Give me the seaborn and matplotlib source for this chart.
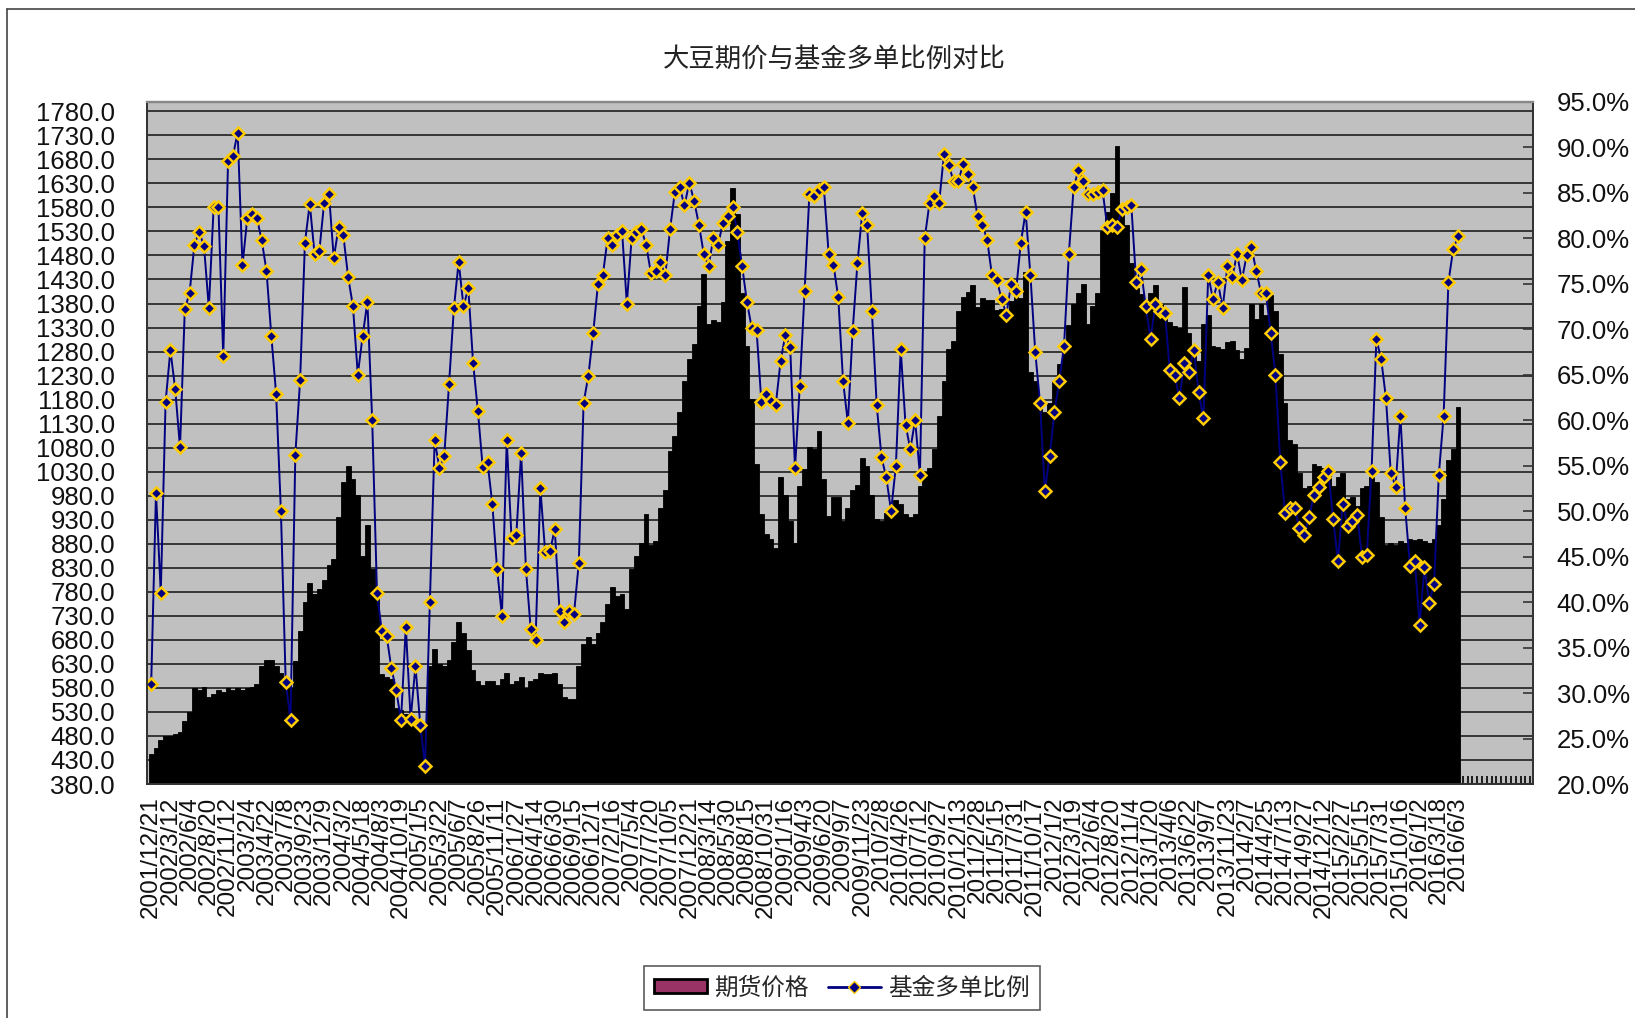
import numpy as np
import pandas as pd
import matplotlib
matplotlib.use("Agg")
import matplotlib.pyplot as plt
import seaborn as sns
from matplotlib.patches import Patch
from matplotlib.lines import Line2D

# ---------------- data ----------------
title = "大豆期价与基金多单比例对比"
series_price = "期货价格"
series_ratio = "基金多单比例"

date_labels = [
    "2001/12/21", "2002/3/12", "2002/6/4", "2002/8/20", "2002/11/12",
    "2003/2/4", "2003/4/22", "2003/7/8", "2003/9/23", "2003/12/9",
    "2004/3/2", "2004/5/18", "2004/8/3", "2004/10/19",
    "2005/1/5", "2005/3/22", "2005/6/7", "2005/8/26", "2005/11/11",
    "2006/1/27", "2006/4/14", "2006/6/30", "2006/9/15", "2006/12/1",
    "2007/2/16", "2007/5/4", "2007/7/20", "2007/10/5", "2007/12/21",
    "2008/3/14", "2008/5/30", "2008/8/15", "2008/10/31",
    "2009/1/16", "2009/4/3", "2009/6/20", "2009/9/7", "2009/11/23",
    "2010/2/8", "2010/4/26", "2010/7/12", "2010/9/27", "2010/12/13",
    "2011/2/28", "2011/5/15", "2011/7/31", "2011/10/17",
    "2012/1/2", "2012/3/19", "2012/6/4", "2012/8/20", "2012/11/4",
    "2013/1/20", "2013/4/6", "2013/6/22", "2013/9/7", "2013/11/23",
    "2014/2/7", "2014/4/25", "2014/7/13", "2014/9/27", "2014/12/12",
    "2015/2/27", "2015/5/15", "2015/7/31", "2015/10/16",
    "2016/1/2", "2016/3/18", "2016/6/3",
]

price = [
    443, 454, 471, 480, 480, 484, 489, 512, 530, 580,
    576, 582, 562, 567, 576, 571, 580, 576, 580, 576,
    580, 582, 589, 626, 639, 639, 626, 612, 594, 580,
    635, 699, 758, 799, 776, 785, 804, 836, 849, 936,
    1009, 1041, 1014, 982, 854, 920, 827, 772, 608, 603,
    599, 539, 535, 525, 512, 512, 507, 507, 626, 662,
    630, 626, 639, 676, 717, 694, 658, 617, 594, 585,
    594, 594, 585, 599, 612, 589, 594, 603, 580, 594,
    599, 612, 608, 608, 612, 589, 562, 557, 557, 626,
    671, 685, 671, 694, 717, 754, 790, 772, 776, 744,
    827, 854, 881, 941, 877, 886, 954, 991, 1073, 1105,
    1155, 1219, 1264, 1296, 1374, 1442, 1337, 1346, 1342, 1383,
    1511, 1620, 1566, 1401, 1292, 1182, 1046, 941, 900, 890,
    872, 1018, 982, 927, 881, 1000, 1036, 1082, 1078, 1114,
    1014, 937, 977, 977, 927, 954, 991, 1003, 1059, 1041,
    982, 931, 927, 945, 950, 972, 963, 941, 936, 941,
    1000, 1029, 1038, 1078, 1146, 1219, 1285, 1301, 1365, 1394,
    1403, 1418, 1372, 1392, 1388, 1388, 1367, 1369, 1351, 1385,
    1420, 1392, 1445, 1237, 1219, 1164, 1155, 1173, 1219, 1255,
    1296, 1336, 1379, 1401, 1421, 1337, 1374, 1401, 1531, 1570,
    1611, 1707, 1577, 1543, 1465, 1412, 1400, 1365, 1401, 1419,
    1379, 1356, 1342, 1333, 1328, 1415, 1319, 1274, 1260, 1337,
    1356, 1292, 1290, 1285, 1299, 1301, 1283, 1265, 1287, 1379,
    1347, 1379, 1356, 1397, 1365, 1274, 1173, 1096, 1087, 1027,
    995, 1000, 1047, 1041, 1038, 1023, 1000, 1018, 1027, 973,
    977, 959, 995, 1000, 1018, 1009, 936, 877, 881, 877,
    886, 881, 890, 888, 890, 886, 881, 890, 918, 973,
    1055, 1078, 1165,
]

ratio = [
    31, 52, 41, 62, 67.7, 63.4, 57, 72.2, 74, 79.3,
    80.7, 79.1, 72.3, 83.4, 83.4, 67, 88.5, 89, 91.6, 77,
    82.2, 82.7, 82.2, 79.8, 76.4, 69.3, 62.9, 50, 31.2, 27,
    56.2, 64.4, 79.5, 83.8, 78.3, 78.6, 83.9, 84.9, 77.8, 81.2,
    80.3, 75.7, 72.5, 65, 69.2, 73, 60, 41, 36.8, 36.3,
    32.7, 30.3, 27, 37.3, 27.1, 33, 26.5, 22, 40, 57.8,
    54.7, 56.1, 64, 72.3, 77.4, 72.5, 74.5, 66.3, 61, 54.8,
    55.4, 50.8, 43.6, 38.5, 57.8, 47, 47.4, 56.4, 43.6, 37,
    35.8, 52.5, 45.5, 45.6, 48, 39, 37.8, 39, 38.7, 44.3,
    61.9, 64.9, 69.6, 75, 75.9, 80, 79.3, 80.3, 80.8, 72.8,
    80, 80.7, 81, 79.3, 76.2, 76.4, 77.4, 75.9, 81, 85.1,
    85.6, 83.6, 86.1, 84.1, 81.5, 78.3, 76.9, 80, 79.3, 81.7,
    82.4, 83.4, 80.7, 76.9, 73, 70.1, 69.9, 62, 62.9, 62.1,
    61.7, 66.5, 69.4, 68, 54.7, 63.8, 74.2, 84.9, 84.6, 85.3,
    85.6, 78.3, 77.1, 73.5, 64.3, 59.7, 69.8, 77.3, 82.8, 81.5,
    72, 61.7, 55.9, 53.7, 50, 55, 67.8, 59.5, 56.8, 60,
    54, 80, 83.9, 84.6, 83.9, 89.2, 88, 86.3, 86.3, 88.1,
    87, 85.6, 82.4, 81.5, 79.8, 75.9, 75.4, 73.3, 71.6, 75,
    74.2, 79.5, 82.9, 75.9, 67.5, 61.9, 52.2, 56.1, 60.9, 64.3,
    68.2, 78.3, 85.6, 87.5, 86.3, 84.9, 84.9, 85.1, 85.3, 81.2,
    81.5, 81.2, 83.2, 83.4, 83.6, 75.2, 76.6, 72.5, 68.9, 72.8,
    72, 71.8, 65.5, 65, 62.4, 66.3, 65.3, 67.7, 63.1, 60.2,
    75.9, 73.3, 75.2, 72.3, 76.9, 75.7, 78.3, 75.4, 78.1, 79,
    76.4, 74, 74, 69.6, 65, 55.4, 49.8, 50.3, 50.3, 48.1,
    47.4, 49.3, 51.8, 52.7, 53.7, 54.4, 49.1, 44.5, 50.8, 48.4,
    48.9, 49.6, 45, 45.2, 54.4, 68.9, 66.7, 62.4, 54.2, 52.7,
    60.5, 50.3, 44, 44.5, 37.5, 43.8, 39.9, 42, 54, 60.5,
    75.2, 78.8, 80.2,
]

left_ticks = list(range(380, 1781, 50))
right_ticks = list(range(20, 96, 5))

# ---------------- style ----------------
sns.set_style("white")
plt.rcParams['font.family'] = ['Liberation Sans', 'Noto Sans CJK SC', 'DejaVu Sans']
cjk = ['Noto Sans CJK SC', 'DejaVu Sans']

W, H = 1635, 1018
fig = plt.figure(figsize=(W / 100, H / 100), dpi=100)
fig.patch.set_facecolor('white')

ax_left = 147 / W
ax_right = 1533 / W
ax_top = 1 - 101.7 / H
ax_bottom = 1 - 784 / H
ax = fig.add_axes([ax_left, ax_bottom, ax_right - ax_left, ax_top - ax_bottom])
ax.set_facecolor('#c0c0c0')

n = len(price)
pos = np.arange(n)
df = pd.DataFrame({"pos": pos, "price": price, "ratio": ratio})

# bars (futures price)
sns.barplot(data=df, x="pos", y="price", color="black", saturation=1,
            width=1.0, edgecolor="black", linewidth=0.6, errorbar=None,
            ax=ax)

ax.set_ylim(380, 1800)
ax.set_xlim(-0.87, 287.6)
ax.set_yticks(left_ticks)
ax.set_yticklabels([f"{v:.1f}" for v in left_ticks])
ax.set_xticks(pos[::4])
ax.set_xticklabels(date_labels, rotation=90)
ax.set_xticks(np.arange(0, 288), minor=True)
ax.set_xlabel("")
ax.set_ylabel("")
ax.tick_params(axis='y', length=0, pad=23, labelsize=18.5, labelcolor='#111')
ax.tick_params(axis='x', which='major', length=0, pad=9, labelsize=17.5,
               labelcolor='#111')
ax.tick_params(axis='x', which='minor', direction='in', length=6, width=1.2,
               color='black', bottom=True)
ax.yaxis.grid(True, color='#111111', linewidth=1.1)
ax.xaxis.grid(False)
ax.set_axisbelow(True)

# line (fund long ratio)
ax2 = ax.twinx()
sns.lineplot(data=df, x="pos", y="ratio", ax=ax2, color="#000080",
             linewidth=1.4, marker="D", markersize=6.2,
             markerfacecolor="#000080", markeredgecolor="#FFCC00",
             markeredgewidth=1.8, legend=False)
ax2.set_ylim(20, 95)
ax2.set_xlim(-0.87, 287.6)
ax2.set_yticks(right_ticks)
ax2.set_yticklabels([f"{v:.1f}%" for v in right_ticks])
ax2.set_ylabel("")
ax2.set_xlabel("")
ax2.grid(False)
ax2.tick_params(axis='y', direction='in', length=7, width=1.2, pad=17,
                labelsize=18.5, labelcolor='#111', color='#333')

for a in (ax, ax2):
    for side in ('left', 'right', 'bottom'):
        a.spines[side].set_visible(True)
        a.spines[side].set_color('#333333')
        a.spines[side].set_linewidth(1.3)
    a.spines['top'].set_visible(True)
    a.spines['top'].set_color('#888888')
    a.spines['top'].set_linewidth(1.6)

# title
fig.text(834 / W, 1 - 59 / H, title, ha='center', va='center', fontsize=19,
         family=cjk, color='#222222')

# legend
handles = [
    Patch(facecolor='#993366', edgecolor='black', linewidth=2.0),
    Line2D([], [], color='#000080', lw=2, marker='D', markersize=6,
           markerfacecolor='#000080', markeredgecolor='#FFCC00',
           markeredgewidth=1.0),
]
leg = fig.legend(handles, [series_price, series_ratio], loc='center',
                 bbox_to_anchor=(842 / W, 1 - 988 / H), ncol=2, frameon=True,
                 fancybox=False, edgecolor='#333333', handlelength=2.25,
                 handleheight=0.5, handletextpad=0.3, columnspacing=0.8,
                 borderpad=0.45, borderaxespad=0,
                 prop={'family': cjk, 'size': 17})
leg.get_frame().set_linewidth(1.2)

# outer chart border (top and left visible)
fig.add_artist(Line2D([7 / W, 1], [1 - 9 / H, 1 - 9 / H],
                      transform=fig.transFigure, color='#444444', lw=1.2))
fig.add_artist(Line2D([7 / W, 7 / W], [0, 1 - 9 / H],
                      transform=fig.transFigure, color='#444444', lw=1.2))

fig.savefig("out.png", dpi=100)
